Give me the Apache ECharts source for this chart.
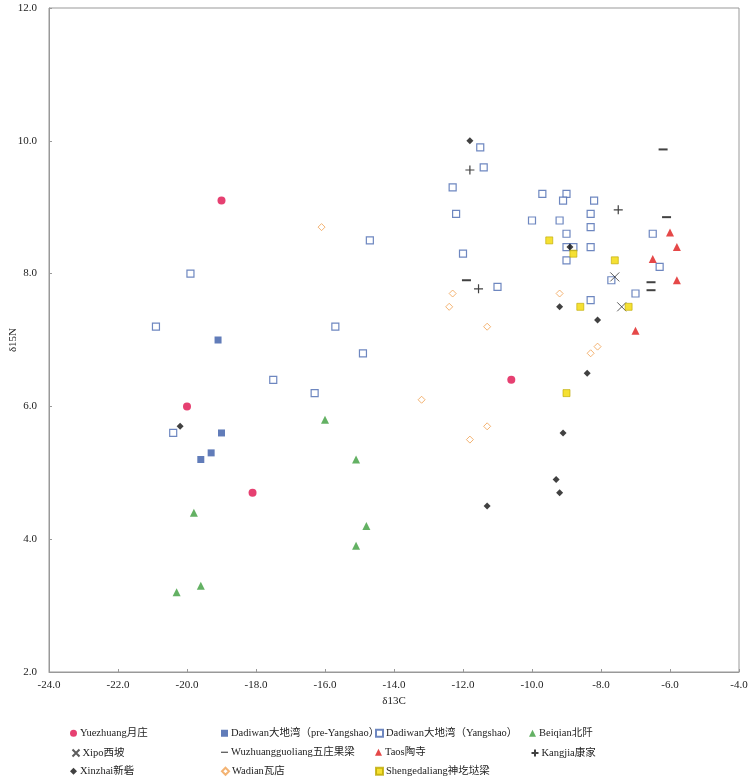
<!DOCTYPE html>
<html>
<head>
<meta charset="utf-8">
<script src="https://cdn.jsdelivr.net/npm/echarts@6/dist/echarts.min.js"></script>
<style>html,body{margin:0;padding:0;background:#fff}#c{width:750px;height:781px}</style>
</head>
<body>
<div id="c"></div>
<script>
// ---- data (δ13C, δ15N) ----
const xTicks = [-24, -22, -20, -18, -16, -14, -12, -10, -8, -6, -4];
const yTicks = [2, 4, 6, 8, 10, 12];

const seriesNames = [
  "Yuezhuang月庄", "Dadiwan大地湾（pre-Yangshao）", "Dadiwan大地湾（Yangshao）", "Beiqian北阡",
  "Xipo西坡", "Wuzhuangguoliang五庄果梁", "Taos陶寺", "Kangjia康家",
  "Xinzhai新砦", "Wadian瓦店", "Shengedaliang神圪垯梁"
];

const yuezhuang = [[-19.0, 9.1], [-20.0, 6.0], [-18.1, 4.7], [-10.6, 6.4]];
const dadiwanPre = [[-19.1, 7.0], [-19.0, 5.6], [-19.3, 5.3], [-19.6, 5.2]];
const dadiwanYangshao = [
  [-20.9, 7.2], [-19.9, 8.0], [-20.4, 5.6], [-17.5, 6.4], [-16.3, 6.2], [-15.7, 7.2], [-14.9, 6.8], [-14.7, 8.5],
  [-11.5, 9.9], [-11.4, 9.6], [-12.3, 9.3], [-9.7, 9.2], [-9.0, 9.2], [-9.1, 9.1], [-8.2, 9.1], [-12.2, 8.9],
  [-8.3, 8.9], [-10.0, 8.8], [-9.2, 8.8], [-8.3, 8.7], [-9.0, 8.6], [-6.5, 8.6], [-12.0, 8.3], [-9.0, 8.4],
  [-8.8, 8.4], [-8.3, 8.4], [-9.0, 8.2], [-6.3, 8.1], [-7.7, 7.9], [-11.0, 7.8], [-7.0, 7.7], [-8.3, 7.6]
];
const beiqian = [[-16.0, 5.8], [-15.1, 5.2], [-19.8, 4.4], [-14.8, 4.2], [-15.1, 3.9], [-19.6, 3.3], [-20.3, 3.2]];
const xipo = [[-7.6, 7.95], [-7.4, 7.5]];
const wuzhuangguoliang = [[-6.2, 9.87], [-6.1, 8.85], [-11.9, 7.9], [-6.55, 7.87], [-6.55, 7.75]];
const taosi = [[-6.0, 8.62], [-5.8, 8.4], [-6.5, 8.22], [-5.8, 7.9], [-7.0, 7.14]];
const kangjia = [[-11.8, 9.56], [-7.5, 8.96], [-11.55, 7.77]];
const xinzhai = [[-11.8, 10.0], [-8.9, 8.4], [-9.2, 7.5], [-8.1, 7.3], [-8.4, 6.5], [-9.1, 5.6], [-9.3, 4.9], [-9.2, 4.7], [-11.3, 4.5], [-20.2, 5.7]];
const wadian = [[-16.1, 8.7], [-12.3, 7.7], [-12.4, 7.5], [-9.2, 7.7], [-11.3, 7.2], [-8.1, 6.9], [-8.3, 6.8], [-13.2, 6.1], [-11.3, 5.7], [-11.8, 5.5]];
const shengedaliang = [[-9.5, 8.5], [-8.8, 8.3], [-7.6, 8.2], [-8.6, 7.5], [-7.2, 7.5], [-9.0, 6.2]];

const seriesData = [yuezhuang, dadiwanPre, dadiwanYangshao, beiqian, xipo, wuzhuangguoliang, taosi, kangjia, xinzhai, wadian, shengedaliang];

// ---- styles ----
const crossPath = 'path://M0,0L10,10M10,0L0,10';
const plusPath = 'path://M5,0L5,10M0,5L10,5';
const dashIcon = 'path://M0,4.2L10,4.2L10,5.8L0,5.8Z';
const styles = [
  {symbol: 'circle', size: 8, item: {color: '#E0104E'}},
  {symbol: 'rect', size: 7, item: {color: '#3A5BA8'}},
  {symbol: 'rect', size: 7, item: {color: '#ffffff', borderColor: '#4A69B0', borderWidth: 1.2}},
  {symbol: 'triangle', size: 8, item: {color: '#3C9E3C'}},
  {symbol: crossPath, size: 9, item: {color: 'none', borderColor: '#333', borderWidth: 1}},
  {symbol: 'rect', size: [9, 2], item: {color: '#111'}},
  {symbol: 'triangle', size: 8, item: {color: '#DE1A1A'}},
  {symbol: plusPath, size: 9, item: {color: 'none', borderColor: '#111', borderWidth: 1.2}},
  {symbol: 'diamond', size: 7, item: {color: '#111'}},
  {symbol: 'diamond', size: 7, item: {color: '#ffffff', borderColor: '#F0A050', borderWidth: 1}},
  {symbol: 'rect', size: 7, item: {color: '#F2D800', borderColor: '#BDA900', borderWidth: 0.8}}
];

const FONT = '"Liberation Serif", "Noto Sans CJK SC", serif';

const series = seriesNames.map((name, i) => ({
  name: name,
  type: 'scatter',
  data: seriesData[i],
  symbol: styles[i].symbol,
  symbolSize: styles[i].size,
  itemStyle: styles[i].item,
  emphasis: {disabled: true},
  z: 2 + i
}));

// legend layout: 4 columns x 3 rows
const colLeft = [70, 221, 375, 529];
const rowTop = [728, 747, 766];
const legends = seriesNames.map((name, i) => ({
  data: [i === 5 ? {name: name, icon: dashIcon} : {name: name}],
  left: colLeft[i % 4],
  top: rowTop[Math.floor(i / 4)],
  padding: 0,
  itemWidth: 7,
  itemHeight: 7,
  itemGap: 0,
  selectedMode: false,
  textStyle: {fontFamily: FONT, fontSize: 10.5, color: '#222', padding: [0, 0, 0, -2]}
}));

const chart = echarts.init(document.getElementById('c'), null, {renderer: 'canvas'});
chart.setOption({
  animation: false,
  backgroundColor: '#fff',
  grid: {left: 49, top: 8, right: 11, bottom: 109, containLabel: false, outerBoundsMode: 'none',
         show: true, borderColor: '#999', borderWidth: 1, backgroundColor: 'transparent'},
  xAxis: {
    type: 'value', min: xTicks[0], max: xTicks[xTicks.length - 1], interval: 2,
    name: 'δ13C', nameLocation: 'middle', nameGap: 24, nameMoveOverlap: false,
    nameTextStyle: {fontFamily: FONT, fontSize: 11, color: '#222'},
    axisLine: {show: true, onZero: false, lineStyle: {color: '#999'}},
    axisTick: {show: true, inside: true, length: 3, lineStyle: {color: '#999'}},
    axisLabel: {fontFamily: FONT, fontSize: 11, color: '#222', margin: 8, formatter: v => v.toFixed(1)},
    splitLine: {show: false}
  },
  yAxis: {
    type: 'value', min: yTicks[0], max: yTicks[yTicks.length - 1], interval: 2,
    name: 'δ15N', nameLocation: 'middle', nameGap: 30, nameRotate: 90, nameMoveOverlap: false,
    nameTextStyle: {fontFamily: FONT, fontSize: 11, color: '#222'},
    axisLine: {show: true, onZero: false, lineStyle: {color: '#999'}},
    axisTick: {show: true, inside: true, length: 3, lineStyle: {color: '#999'}},
    axisLabel: {fontFamily: FONT, fontSize: 11, color: '#222', margin: 12, formatter: v => v.toFixed(1)},
    splitLine: {show: false}
  },
  legend: legends,
  series: series
});
</script>
</body>
</html>
